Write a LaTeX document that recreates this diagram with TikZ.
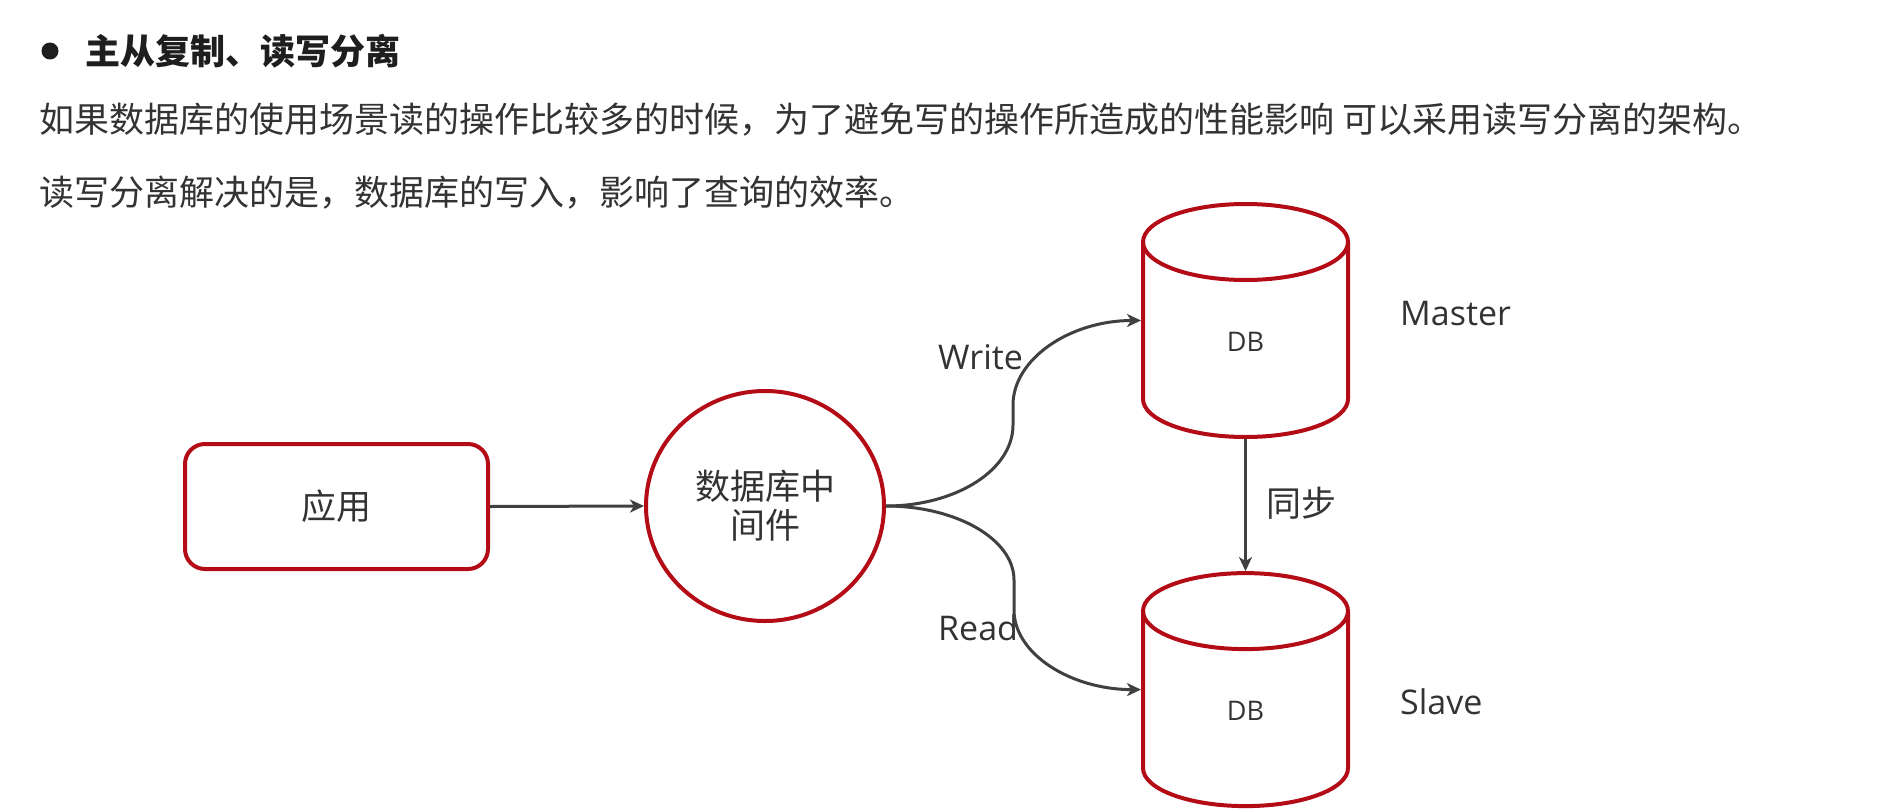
\documentclass[tikz,border=0pt]{standalone}
\usepackage{fontspec}
\setmainfont{Noto Sans CJK SC}
\newfontfamily\latinfont{Open Sans}
\usetikzlibrary{arrows.meta,shapes.geometric}
\definecolor{dbred}{RGB}{180,12,22}
\definecolor{linegray}{RGB}{64,64,64}
\definecolor{txt}{RGB}{51,51,51}
\definecolor{txtdark}{RGB}{30,30,30}
\tikzset{
  redline/.style={draw=dbred, line width=4pt},
  appbox/.style={redline, rectangle, rounded corners=20pt, minimum width=303pt, minimum height=125pt, inner sep=0pt, text=txt, font=\fontsize{35}{40}\selectfont},
  midcircle/.style={redline, ellipse, minimum width=238pt, minimum height=230pt, inner sep=0pt, text=txt, align=center, font=\fontsize{35}{39}\selectfont},
  cylbox/.style={rectangle, minimum width=205pt, minimum height=233pt, inner sep=0pt, outer sep=2pt},
  dbtext/.style={inner sep=0pt, text=txt, font=\latinfont\fontsize{27}{30}\selectfont},
  lbl/.style={inner sep=0pt, anchor=west, text=txt, font=\fontsize{35}{40}\selectfont},
  latlbl/.style={inner sep=0pt, anchor=west, text=txt, font=\latinfont\fontsize{34}{40}\selectfont},
  arr/.style={draw=linegray, line width=3pt, -{Stealth[length=14pt,width=13pt,inset=4pt]}},
}
\newcommand\dbcyl[4]{% name, cx, cy, db-node name
  \node[cylbox] (#1) at (#2,#3) {};
  \draw[redline] (#2-102.5,#3-78.5) -- (#2-102.5,#3+78.5) arc[start angle=180,end angle=0,x radius=102.5,y radius=38] -- (#2+102.5,#3-78.5);
  \draw[redline] (#2,#3-78.5) ellipse[x radius=102.5,y radius=38];
  \node[dbtext] (#4) at (#2,#3+21) {DB};
}
\begin{document}
\begin{tikzpicture}[x=1pt,y=-1pt]
\useasboundingbox[fill=white] (0,0) rectangle (1877,811);
% heading and text
\node[circle, fill=txtdark, minimum size=17pt, inner sep=0pt] (bullet) at (50,51) {};
\node[lbl, text=txtdark, font=\bfseries\fontsize{35}{40}\selectfont] (title) at (85,51) {主从复制、读写分离};
\node[lbl] (line1) at (39,120) {如果数据库的使用场景读的操作比较多的时候，为了避免写的操作所造成的性能影响 可以采用读写分离的架构。};
\node[lbl] (line2) at (39,193) {读写分离解决的是，数据库的写入，影响了查询的效率。};
% diagram
\node[appbox] (app) at (336.5,506.5) {应用};
\node[midcircle] (mid) at (765,506) {数据库中\\间件};
\dbcyl{master}{1245.5}{320.5}{masterdb}
\dbcyl{slave}{1245.5}{689.6}{slavedb}
\node[latlbl] (masterlbl) at (1400,314) {Master};
\node[latlbl] (slavelbl) at (1400,702) {Slave};
\node[lbl] (synclbl) at (1266,503) {同步};
\node[latlbl] (writelbl) at (938,357) {Write};
\node[latlbl] (readlbl) at (938,628) {Read};
% connectors
\draw[arr] (app.east) -- (mid.west);
\draw[arr] (mid.east) .. controls (956,506) and (1013,470) .. (1013,425) -- (1013,405) .. controls (1013,359) and (1070,320.5) .. (master.west);
\draw[arr] (mid.east) .. controls (956,506) and (1014,539) .. (1014,580) -- (1014,610) .. controls (1014,654) and (1071,689.6) .. (slave.west);
\draw[arr] (master.south) -- (slave.north);
\end{tikzpicture}
\end{document}
